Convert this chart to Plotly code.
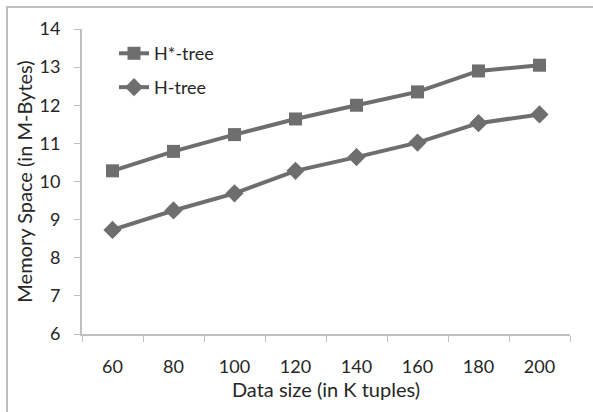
import plotly.graph_objects as go

categories = ["60", "80", "100", "120", "140", "160", "180", "200"]
hstar_tree = [10.28, 10.79, 11.23, 11.64, 12.0, 12.35, 12.9, 13.05]
h_tree = [8.73, 9.24, 9.69, 10.28, 10.64, 11.02, 11.53, 11.76]
y_ticks = [6, 7, 8, 9, 10, 11, 12, 13, 14]

LINE = "#6e6e6e"
AXIS = "#c0c0c0"
TEXT = "#262626"
FONT = "Lato, 'Open Sans', sans-serif"

fig = go.Figure()
fig.add_trace(go.Scatter(
    x=categories, y=hstar_tree, name="H*-tree", mode="lines+markers",
    line=dict(color=LINE, width=4),
    marker=dict(symbol="square", size=13, color=LINE),
    legend="legend",
))
fig.add_trace(go.Scatter(
    x=categories, y=h_tree, name="H-tree", mode="lines+markers",
    line=dict(color=LINE, width=4),
    marker=dict(symbol="diamond", size=14, color=LINE),
    legend="legend2",
))

legend_style = dict(xanchor="left", yanchor="top", bgcolor="rgba(0,0,0,0)",
                    font=dict(size=18, color=TEXT, family=FONT))

fig.update_layout(
    width=593, height=412,
    margin=dict(l=82, r=23, t=29, b=78),
    paper_bgcolor="white", plot_bgcolor="white",
    font=dict(family=FONT, size=18, color=TEXT),
    showlegend=True,
    legend=dict(x=0.0656, y=0.980, **legend_style),
    legend2=dict(x=0.0656, y=0.869, **legend_style),
    xaxis=dict(
        type="category", showgrid=False, zeroline=False,
        showline=True, linecolor=AXIS, linewidth=2,
        ticks="outside", tickson="boundaries", ticklen=6, tickcolor=AXIS, tickwidth=1,
        tickfont=dict(size=18), ticklabelstandoff=15, range=[-0.5, 7.5],
        title=dict(text="Data size (in K tuples)", font=dict(size=20), standoff=0),
    ),
    yaxis=dict(
        range=[6, 14], tickvals=y_ticks, showgrid=False, zeroline=False,
        showline=True, linecolor=AXIS, linewidth=2,
        ticks="outside", ticklen=6, tickcolor=AXIS, tickwidth=1,
        tickfont=dict(size=18), ticklabelstandoff=10,
        title=dict(text="Memory Space (in M-Bytes)", font=dict(size=20), standoff=2),
    ),
    shapes=[
        dict(type="path", xref="paper", yref="paper",
             path="M -0.1537,-0.3 L -0.1537,1.072 L 1.1,1.072",
             line=dict(color="#bfbfbf", width=2)),
    ],
)

fig.write_html("out.html")
